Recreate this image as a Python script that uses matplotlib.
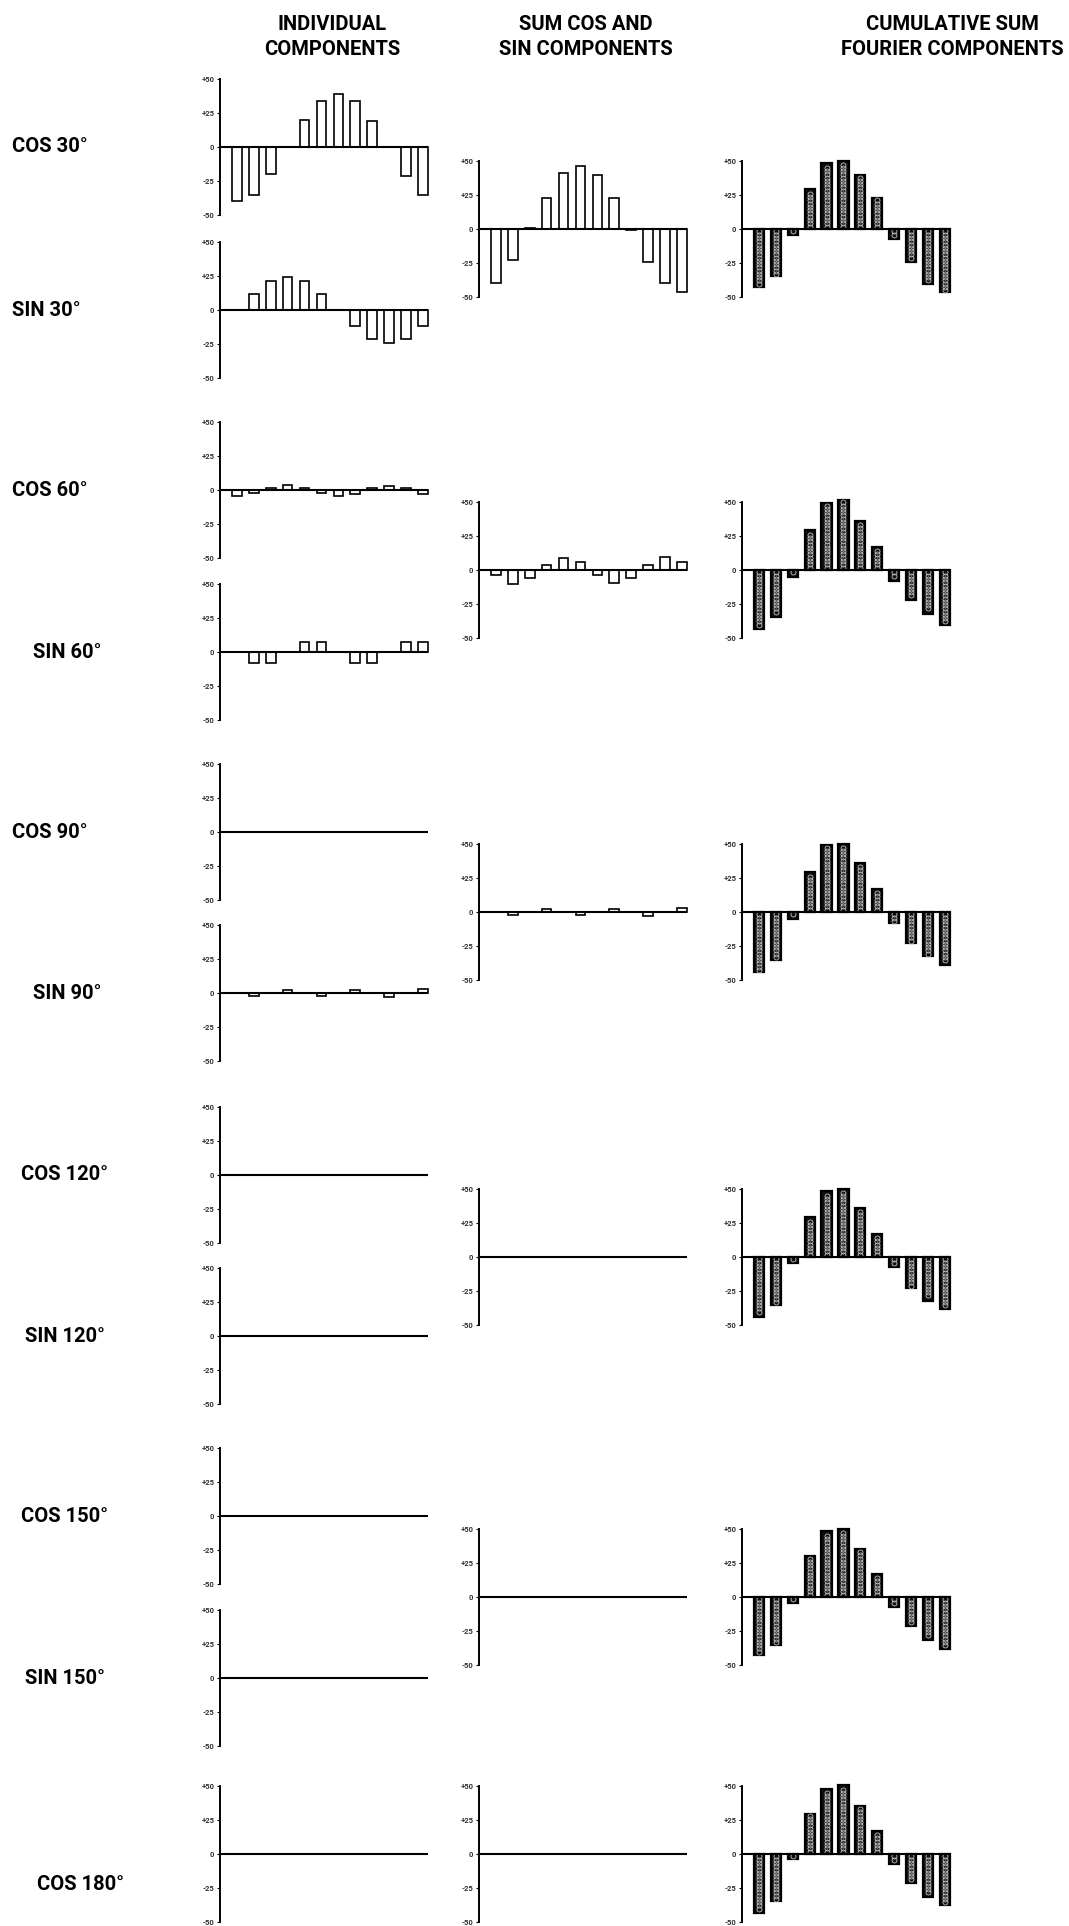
import numpy as np
import matplotlib
matplotlib.use("Agg")
import matplotlib.pyplot as plt

# twelve sample points along the x axis
positions = np.arange(1, 13)

column_titles = ["INDIVIDUAL\nCOMPONENTS", "SUM COS AND\nSIN COMPONENTS",
                 "CUMULATIVE SUM\nFOURIER COMPONENTS"]
row_labels = ["COS 30°", "SIN 30°", "COS 60°", "SIN 60°", "COS 90°", "SIN 90°",
              "COS 120°", "SIN 120°", "COS 150°", "SIN 150°", "COS 180°"]
tick_values = [50, 25, 0, -25, -50]
tick_labels = ["+50", "+25", "0", "-25", "-50"]

# individual components
cos30 = [-40, -35, -20, 0, 20, 34, 39, 34, 19, 0, -21, -35]
sin30 = [0, 12, 21, 24, 21, 12, 0, -12, -21, -24, -21, -12]
cos60 = [-4.5, -2.5, 1.7, 3.5, 1.7, -2.5, -4.5, -2.7, 1.2, 3, 1.2, -2.7]
sin60 = [0, -8, -8, 0, 7, 7, 0, -8, -8, 0, 7, 7]
cos90 = [0, 0, 0, 0, 0, 0, 0, 0, 0, 0, 0, 0]
sin90 = [0, -2.4, 0, 2.4, 0, -2.4, 0, 2.2, 0, -2.6, 0, 2.6]
cos120 = [0, 0, 0, 0, 0, 0, 0, 0, 0, 0, 0, 0]
sin120 = [0, 0, 0, 0, 0, 0, 0, 0, 0, 0, 0, 0]
cos150 = [0, 0, 0, 0, 0, 0, 0, 0, 0, 0, 0, 0]
sin150 = [0, 0, 0, 0, 0, 0, 0, 0, 0, 0, 0, 0]
cos180 = [0, 0, 0, 0, 0, 0, 0, 0, 0, 0, 0, 0]

# cos + sin for each harmonic
sum30 = [-40, -23, 1, 23, 41, 46, 40, 23, -1, -24, -40, -46]
sum60 = [-4, -10, -6, 3.5, 9, 5.6, -4, -9.5, -5.6, 3.7, 9.3, 5.6]
sum90 = [0, -2.4, 0, 2.4, 0, -2.4, 0, 2.2, 0, -2.6, 0, 2.6]
sum120 = [0, 0, 0, 0, 0, 0, 0, 0, 0, 0, 0, 0]
sum150 = [0, 0, 0, 0, 0, 0, 0, 0, 0, 0, 0, 0]
sum180 = [0, 0, 0, 0, 0, 0, 0, 0, 0, 0, 0, 0]

# running total of the fourier components
cum30 = [-43, -34.5, -4.4, 29.5, 48.5, 50, 39.5, 22.5, -7.6, -24, -40.4, -46.5]
cum60 = [-43.7, -34.4, -5.4, 29.5, 49, 51.5, 36, 16.8, -7.8, -21.7, -32, -40.5]
cum90 = [-44, -35, -5, 29.5, 49.5, 50, 36, 16.7, -8.3, -23, -32.4, -39]
cum120 = [-43.8, -35, -4.4, 29.5, 48.8, 50, 36, 17.2, -7.4, -22.7, -32, -38.4]
cum150 = [-43, -35, -4.4, 29.8, 48.8, 50, 35.4, 16.8, -7.3, -21.5, -31.7, -38]
cum180 = [-43.4, -34.6, -4, 29.7, 48, 50.5, 35, 17, -7.6, -21.3, -31.6, -37.3]

individual = [cos30, sin30, cos60, sin60, cos90, sin90,
              cos120, sin120, cos150, sin150, cos180]
sums = [sum30, sum60, sum90, sum120, sum150, sum180]
cumulative = [cum30, cum60, cum90, cum120, cum150, cum180]

W, H = 1069, 1926
label_font = "Roboto"

fig = plt.figure(figsize=(W / 100, H / 100), dpi=100)


def px_axes(x, top, w=208, h=136):
    return fig.add_axes([x / W, 1 - (top + h) / H, w / W, h / H])


def style(ax):
    ax.set_xlim(0, 12.3)
    ax.set_ylim(-50, 50)
    for side in ["top", "right", "bottom"]:
        ax.spines[side].set_visible(False)
    ax.spines["left"].set_linewidth(1.4)
    ax.set_xticks([])
    ax.set_yticks(tick_values)
    ax.set_yticklabels(tick_labels, fontsize=5.5, color="#333333",
                       family=label_font, fontweight="bold")
    ax.tick_params(axis="y", length=2, width=0.8, pad=2)
    ax.axhline(0, color="black", lw=1.5, zorder=4)
    ax.patch.set_alpha(0)


def open_bars(ax, values):
    ax.bar(positions, values, width=0.57, facecolor="white",
           edgecolor="black", linewidth=1.2, zorder=2, clip_on=False)


def chain_bars(ax, values):
    # dark bars with a chain of white rings running down each one
    ax.bar(positions, values, width=0.6, facecolor="#101010",
           edgecolor="black", linewidth=1.6, zorder=2, clip_on=False)
    for x, v in zip(positions, values):
        ys = np.sign(v) * np.arange(1.8, max(abs(v) - 1.4, 1.9), 2.4)
        ax.plot(np.full(len(ys), x), ys, ls="none", marker="o", ms=3.6,
                mfc="none", mec="#d0d0d0", mew=0.55, zorder=3, clip_on=False)


# column 1: individual components
cos_tops = [79, 422, 764, 1107, 1448, 1786]
sin_tops = [242, 584, 925, 1268, 1610]
col1_tops = []
for i in range(6):
    col1_tops.append(cos_tops[i])
    if i < 5:
        col1_tops.append(sin_tops[i])

for top, vals in zip(col1_tops, individual):
    ax = px_axes(220, top)
    open_bars(ax, vals)
    style(ax)

# columns 2 and 3
pair_tops = [161, 502, 844, 1189, 1529, 1786]
for top, svals, cvals in zip(pair_tops, sums, cumulative):
    ax = px_axes(479, top)
    open_bars(ax, svals)
    style(ax)
    ax = px_axes(742, top)
    chain_bars(ax, cvals)
    style(ax)

# column titles
for xc, title in zip([332, 586, 952], column_titles):
    fig.text(xc / W, 1 - 37 / H, title, ha="center", va="center",
             fontsize=14.5, fontweight="bold", family=label_font,
             linespacing=1.35)

# row labels, centred on each panel's zero line
label_x = [12, 12, 12, 33, 12, 33, 21, 25, 21, 25, 37]
label_y = [t + 68 for t in col1_tops]
label_y[-1] += 30
for lab, lx, ly in zip(row_labels, label_x, label_y):
    fig.text(lx / W, 1 - ly / H, lab, ha="left", va="center",
             fontsize=14.5, fontweight="bold", family=label_font)

fig.savefig("out.png", dpi=100)
